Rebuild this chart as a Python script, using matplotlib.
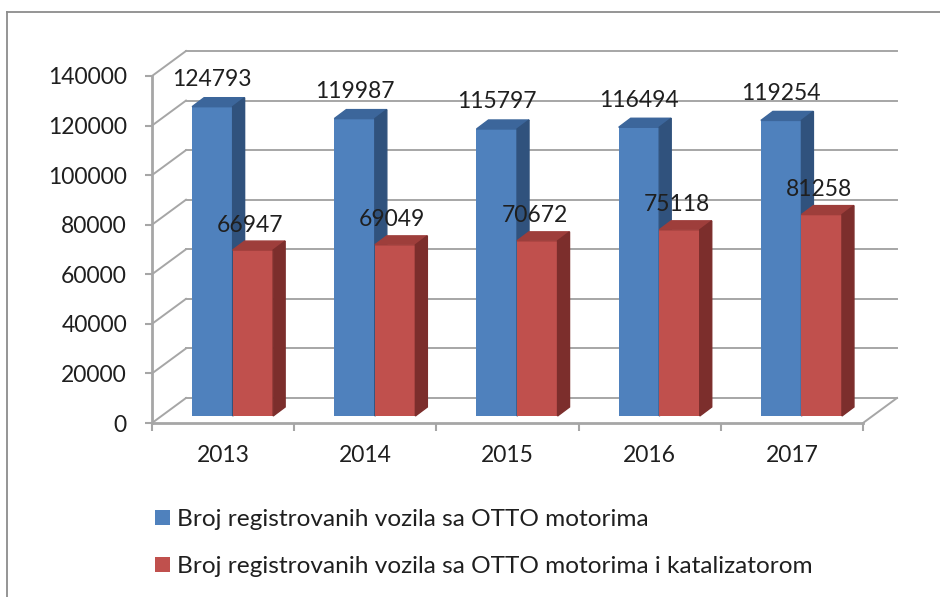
import matplotlib.pyplot as plt
from matplotlib.patches import Polygon, Patch
from matplotlib.lines import Line2D
import numpy as np

# Podaci
godine = ["2013", "2014", "2015", "2016", "2017"]
otto = [124793, 119987, 115797, 116494, 119254]
otto_kat = [66947, 69049, 70672, 75118, 81258]
y_podela = [0, 20000, 40000, 60000, 80000, 100000, 120000, 140000]
legenda = ["Broj registrovanih vozila sa OTTO motorima",
           "Broj registrovanih vozila sa OTTO motorima i katalizatorom"]

plt.rcParams['font.family'] = ['Lato', 'DejaVu Sans']

W, H = 940, 597
siva = '#a6a6a6'
tekst = '#1f1f1f'
fs = 16.5       # brojevi
fs_leg = 17.6   # legenda

# boje: lice, vrh, strana
plava = ('#4f81bd', '#3c669b', '#30527d')
crvena = ('#c0504d', '#9e3e3b', '#7c2e2c')

fig = plt.figure(figsize=(W / 100, H / 100), dpi=100)
ax = fig.add_axes([0, 0, 1, 1])
ax.patch.set_alpha(0)

# razmera (pikseli po jedinici)
px_x = 142.2
px_y = 347 / 140000
x0, y0 = 152, 423
ax.set_xlim(-0.5 - x0 / px_x, 4.5 + (W - x0 - 5 * px_x) / px_x)
ax.set_ylim(-(H - y0) / px_y, y0 / px_y)

# 3D pomeraji
zdx, zdy = 34 / px_x, 25 / px_y          # zadnji zid
sx, sy = 0.28 * zdx, 0.28 * zdy          # prednja strana stubica
bdx, bdy = 12 / px_x, 9 / px_y           # dubina stubica
w = 0.285

# mreza na zidovima
for v in y_podela:
    ax.plot([-0.5, -0.5 + zdx], [v, v + zdy], color=siva, lw=1.4, zorder=1)
    ax.plot([-0.5 + zdx, 4.5 + zdx], [v + zdy, v + zdy], color=siva, lw=1.4, zorder=1)
ax.plot([4.5, 4.5 + zdx], [0, zdy], color=siva, lw=1.4, zorder=1)


def stubic(xl, v, boje, z):
    ax.bar(xl, v, width=w, bottom=sy, align='edge', color=boje[0], zorder=z)
    xr = xl + w
    top = v + sy
    vrh = [(xl, top), (xr, top), (xr + bdx, top + bdy), (xl + bdx, top + bdy)]
    strana = [(xr, sy), (xr + bdx, sy + bdy), (xr + bdx, top + bdy), (xr, top)]
    ax.add_patch(Polygon(vrh, closed=True, color=boje[1], zorder=z))
    ax.add_patch(Polygon(strana, closed=True, color=boje[2], zorder=z))


for i in range(len(godine)):
    c = i + sx
    stubic(c - w, otto[i], plava, 2)
    stubic(c, otto_kat[i], crvena, 3)
    ax.text(c - w / 2, otto[i] + sy + 27 / px_y, str(otto[i]), ha='center',
            va='center', fontsize=fs, color=tekst, zorder=5)
    ax.text(c + w / 2 - 0.02, otto_kat[i] + sy + 25 / px_y, str(otto_kat[i]),
            ha='center', va='center', fontsize=fs, color=tekst, zorder=5)

# ose
for s in ['top', 'right']:
    ax.spines[s].set_visible(False)
ax.spines['left'].set_position(('data', -0.5))
ax.spines['left'].set_bounds(0, 140000)
ax.spines['bottom'].set_position(('data', 0))
ax.spines['bottom'].set_bounds(-0.5, 4.5)
for s in ['left', 'bottom']:
    ax.spines[s].set_color(siva)
    ax.spines[s].set_linewidth(2)
    ax.spines[s].set_zorder(1.5)

ax.set_yticks(y_podela, [str(v) for v in y_podela])
ax.tick_params(axis='y', length=5, width=1.5, color=siva, pad=13,
               labelsize=fs, labelcolor=tekst)
ax.set_xticks(np.arange(-0.5, 5, 1), [''] * 6)
ax.set_xticks(range(5), godine, minor=True)
ax.tick_params(axis='x', which='major', length=6, width=1.5, color=siva)
ax.tick_params(axis='x', which='minor', length=0, pad=16,
               labelsize=fs, labelcolor=tekst)

# okvir
fig.add_artist(Line2D([7 / W, 7 / W], [0, 1 - 12 / H], transform=fig.transFigure,
                      color='#8c8c8c', lw=1.3))
fig.add_artist(Line2D([7 / W, 1], [1 - 12 / H, 1 - 12 / H], transform=fig.transFigure,
                      color='#8c8c8c', lw=1.3))

# legenda
ruke = [Patch(facecolor=plava[0]), Patch(facecolor=crvena[0])]
fig.legend(handles=ruke, labels=legenda, loc='upper left',
           bbox_to_anchor=(155 / W, 1 - 509 / H), frameon=False,
           prop={'size': fs_leg},
           handlelength=0.61, handleheight=0.57, handletextpad=0.29,
           labelspacing=1.08, borderpad=0, borderaxespad=0, labelcolor=tekst)

fig.savefig('out.png', dpi=100)
